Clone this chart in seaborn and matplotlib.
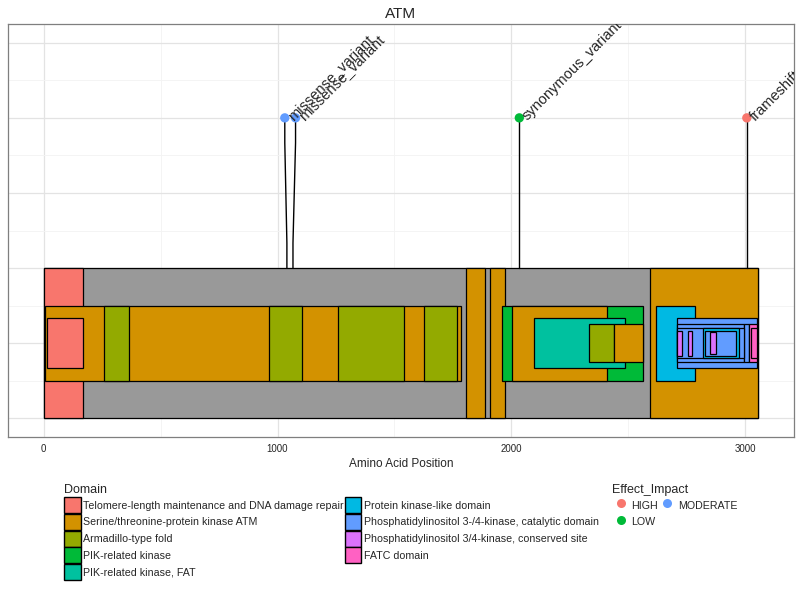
import numpy as np
import pandas as pd
import matplotlib
matplotlib.use("Agg")
import matplotlib.pyplot as plt
from matplotlib.patches import Patch
from matplotlib.lines import Line2D
import seaborn as sns

# --- data ---
protein_name = "ATM"
protein_length = 3056

domain_names = [
    "Telomere-length maintenance and DNA damage repair",
    "Serine/threonine-protein kinase ATM",
    "Armadillo-type fold",
    "PIK-related kinase",
    "PIK-related kinase, FAT",
    "Protein kinase-like domain",
    "Phosphatidylinositol 3-/4-kinase, catalytic domain",
    "Phosphatidylinositol 3/4-kinase, conserved site",
    "FATC domain",
]

# domain segments: index into domain_names, start, end, nesting level
seg_domain = [0, 1, 1, 1,
              1, 2, 2, 2, 2, 3, 1, 5,
              0, 4, 6,
              2, 1, 6, 6, 8,
              6, 5, 8,
              7, 7, 6,
              7]
seg_start = [0, 1806, 1909, 2594,
             6, 258, 964, 1258, 1625, 1958, 2001, 2620,
             16, 2095, 2709,
             2330, 2437, 2709, 2997, 3015,
             2709, 2820, 3023,
             2709, 2755, 2830,
             2849]
seg_end = [170, 1886, 1971, 3056,
           1785, 366, 1106, 1540, 1766, 2562, 2411, 2784,
           167, 2485, 3051,
           2437, 2565, 2997, 3015, 3051,
           2997, 2973, 3051,
           2728, 2771, 2959,
           2875]
seg_level = [1, 1, 1, 1,
             2, 2, 2, 2, 2, 2, 2, 2,
             3, 3, 3,
             4, 4, 4, 4, 4,
             5, 5, 5,
             6, 6, 6,
             7]

var_pos = [1040, 1066, 2034, 3007]
var_label_pos = [1031, 1077, 2034, 3007]
var_type = ["missense_variant", "missense_variant", "synonymous_variant", "frameshift_variant"]
var_impact = ["MODERATE", "MODERATE", "LOW", "HIGH"]
impact_levels = ["HIGH", "LOW", "MODERATE"]

# --- styling ---
domain_colors = ["#F8766D", "#D39200", "#93AA00", "#00BA38", "#00C19F",
                 "#00B9E3", "#619CFF", "#DB72FB", "#FF61C3"]
impact_colors = {"HIGH": "#F8766D", "LOW": "#00BA38", "MODERATE": "#619CFF"}

sns.set_style("white")
plt.rcParams["font.family"] = ["Liberation Sans", "DejaVu Sans"]

fig = plt.figure(figsize=(8, 6), dpi=100)
ax = fig.add_axes([8 / 800, 1 - 437 / 600, (794 - 8) / 800, (437 - 24) / 600])

# protein backbone
ax.bar(0, 2, width=protein_length, bottom=-1, align="edge",
       color="#999999", edgecolor="black", linewidth=0.9, zorder=2)

# nested domain boxes
for d, s, e, lv in zip(seg_domain, seg_start, seg_end, seg_level):
    h = 1.0 / lv
    ax.bar(s, 2 * h, width=e - s, bottom=-h, align="edge",
           color=domain_colors[d], edgecolor="black", linewidth=0.9, zorder=3)

# lollipop stems
for p, lp in zip(var_pos, var_label_pos):
    ax.plot([p, p, lp, lp], [1, 4 / 3, 8 / 3, 3], color="black", lw=1, zorder=4)

df = pd.DataFrame({"pos": var_label_pos, "y": [3] * len(var_pos),
                   "impact": var_impact, "type": var_type})
sns.scatterplot(data=df, x="pos", y="y", hue="impact", palette=impact_colors,
                s=45, linewidth=0, legend=False, ax=ax, zorder=5)

for lp, t in zip(var_label_pos, var_type):
    ax.annotate(t, (lp, 3), xytext=(4, 0), textcoords="offset points",
                rotation=45, rotation_mode="anchor", ha="left", va="center",
                fontsize=10.5, clip_on=True, zorder=6)

ax.set_xlim(-0.05 * protein_length, 1.05 * protein_length)
ax.set_ylim(-1.25, 4.25)
ax.set_xticks([0, 1000, 2000, 3000])
ax.set_xticks([500, 1500, 2500], minor=True)
ax.set_yticks(np.arange(-1, 5))
ax.set_yticks(np.arange(-0.5, 4, 1), minor=True)
ax.set_yticklabels([])
ax.grid(which="major", color="#e3e3e3", linewidth=0.9, zorder=0)
ax.grid(which="minor", color="#f3f3f3", linewidth=0.6, zorder=0)
ax.set_axisbelow(True)
ax.tick_params(axis="x", which="major", length=3, width=0.6, color="#333333",
               labelsize=7, pad=2)
ax.tick_params(axis="x", which="minor", length=0)
ax.tick_params(axis="y", which="both", length=0)
for sp in ax.spines.values():
    sp.set_color("#7f7f7f")
    sp.set_linewidth(0.9)
ax.set_xlabel("Amino Acid Position", fontsize=8.5, labelpad=3)
ax.set_ylabel("")
ax.set_title(protein_name, fontsize=11, pad=4)

# legends
dom_handles = [Patch(facecolor=c, edgecolor="black", linewidth=1) for c in domain_colors]
leg1 = fig.legend(dom_handles, domain_names, title="Domain", ncol=2,
                  loc="upper left", bbox_to_anchor=(57 / 800, 1 - 477 / 600),
                  frameon=False, fontsize=7.7, title_fontsize=9,
                  handlelength=1.5, handleheight=1.9, handletextpad=0.25,
                  labelspacing=0.08, columnspacing=0.1, borderpad=0.2,
                  alignment="left")

imp_handles = [Line2D([], [], marker="o", linestyle="", markersize=6.5,
                      markerfacecolor=impact_colors[k], markeredgewidth=0)
               for k in impact_levels]
leg2 = fig.legend(imp_handles, impact_levels, title="Effect_Impact", ncol=2,
                  loc="upper left", bbox_to_anchor=(605 / 800, 1 - 477 / 600),
                  frameon=False, fontsize=7.7, title_fontsize=9,
                  handlelength=1.5, handleheight=1.9, handletextpad=0.25,
                  labelspacing=0.08, columnspacing=0.1, borderpad=0.2,
                  alignment="left")

fig.savefig("out.png", dpi=100)
